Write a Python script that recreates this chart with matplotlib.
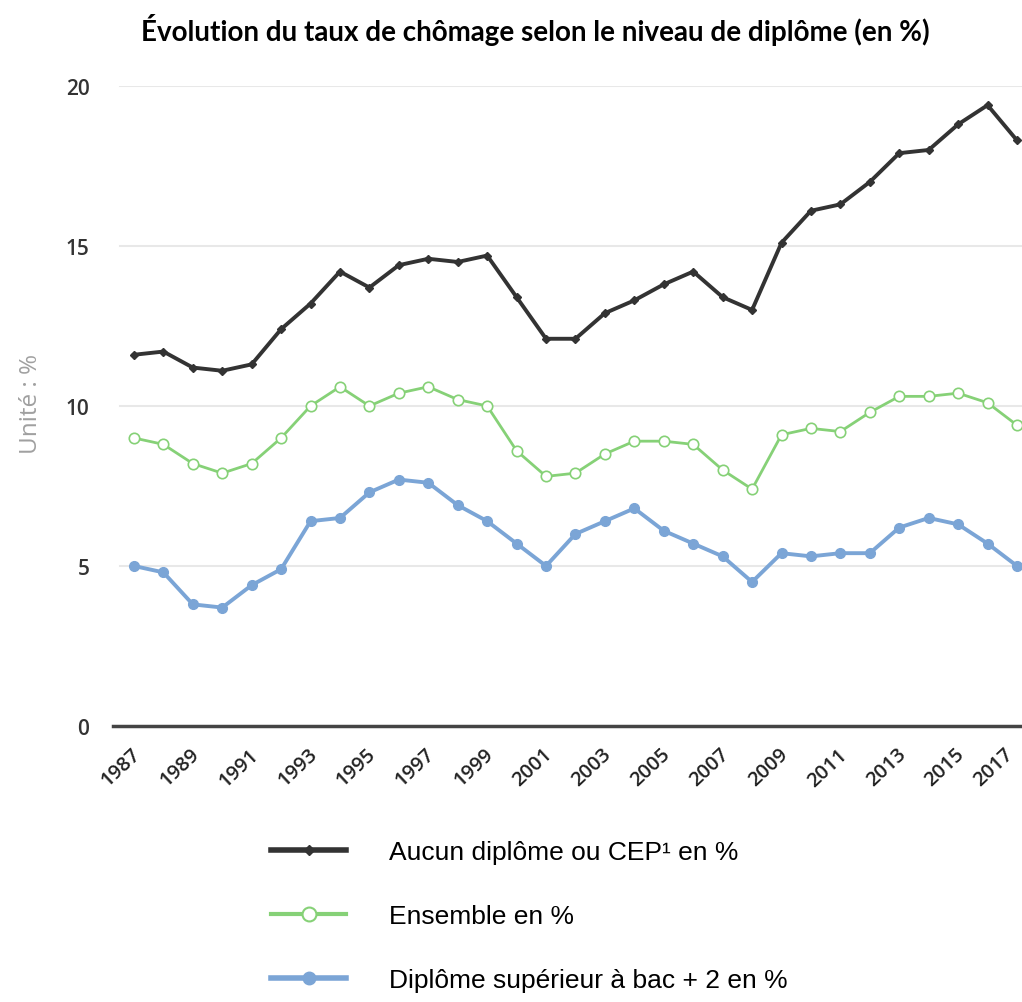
import numpy as np
import matplotlib.pyplot as plt
import matplotlib.transforms as mtransforms
from matplotlib.lines import Line2D

# Données
years = list(range(1987, 2018))
aucun = [11.6, 11.7, 11.2, 11.1, 11.3, 12.4, 13.2, 14.2, 13.7, 14.4, 14.6, 14.5, 14.7, 13.4, 12.1, 12.1,
         12.9, 13.3, 13.8, 14.2, 13.4, 13.0, 15.1, 16.1, 16.3, 17.0, 17.9, 18.0, 18.8, 19.4, 18.3]
ensemble = [9.0, 8.8, 8.2, 7.9, 8.2, 9.0, 10.0, 10.6, 10.0, 10.4, 10.6, 10.2, 10.0, 8.6, 7.8, 7.9,
            8.5, 8.9, 8.9, 8.8, 8.0, 7.4, 9.1, 9.3, 9.2, 9.8, 10.3, 10.3, 10.4, 10.1, 9.4]
superieur = [5.0, 4.8, 3.8, 3.7, 4.4, 4.9, 6.4, 6.5, 7.3, 7.7, 7.6, 6.9, 6.4, 5.7, 5.0, 6.0,
             6.4, 6.8, 6.1, 5.7, 5.3, 4.5, 5.4, 5.3, 5.4, 5.4, 6.2, 6.5, 6.3, 5.7, 5.0]
labels = ['Aucun diplôme ou CEP¹ en %', 'Ensemble en %', 'Diplôme supérieur à bac + 2 en %']
yticks = [0, 5, 10, 15, 20]
xticks = list(range(1987, 2018, 2))

c_black = '#333333'
c_green = '#86d177'
c_blue = '#7ba5d6'

fig = plt.figure(figsize=(10.22, 10.03), dpi=100)
ax = fig.add_axes([0.1106, 0.2752, 0.8894, 0.6381])

ax.plot(years, aucun, color=c_black, lw=2.8, marker='D', ms=4, mfc=c_black, mec=c_black,
        clip_on=False, zorder=5)
ax.plot(years, ensemble, color=c_green, lw=2.0, marker='o', ms=7.5, mfc='white', mec=c_green,
        mew=1.2, clip_on=False, zorder=4)
ax.plot(years, superieur, color=c_blue, lw=2.8, marker='o', ms=7, mfc=c_blue, mec=c_blue,
        clip_on=False, zorder=4)

ax.set_xlim(1986.29, 2017.17)
ax.set_ylim(0, 20)

ax.set_yticks(yticks)
ax.set_yticklabels([str(v) for v in yticks], fontsize=15, fontweight='semibold',
                   color='#333333', family='Open Sans')
ax.set_xticks(xticks)
ax.set_xticklabels([str(v) for v in xticks], rotation=43, ha='right', rotation_mode='anchor',
                   fontsize=14.5, fontweight='semibold', color='#222222', family='Open Sans')
ax.tick_params(axis='both', length=0)
ax.tick_params(axis='y', pad=17)
ax.tick_params(axis='x', pad=13)

# décalage à gauche pour que 2017 reste dans l'image
xlabs = ax.get_xticklabels()
for lab in xlabs:
    lab.set_transform(lab.get_transform() + mtransforms.ScaledTranslation(-3 / 100, 0, fig.dpi_scale_trans))
xlabs[-1].set_transform(xlabs[-1].get_transform() + mtransforms.ScaledTranslation(-10 / 100, 0, fig.dpi_scale_trans))

for y in yticks[1:]:
    ax.axhline(y, xmin=0.0075, color='#e8e8e8', lw=1.5, zorder=1)

for s in ['top', 'right', 'left']:
    ax.spines[s].set_visible(False)
ax.spines['bottom'].set_color('#444444')
ax.spines['bottom'].set_linewidth(2.5)

fig.text(0.030, 0.597, 'Unité : %', rotation=90, ha='center', va='center',
         fontsize=17.5, color='#a0a0a0', family='Open Sans')

fig.text(0.524, 0.970, 'Évolution du taux de chômage selon le niveau de diplôme (en %)',
         ha='center', va='center', fontsize=20, fontweight='bold', family='Lato')

handles = [
    Line2D([], [], color=c_black, lw=4, marker='D', ms=5, mfc=c_black, mec=c_black),
    Line2D([], [], color=c_green, lw=3, marker='o', ms=10, mfc='white', mec=c_green, mew=1.5),
    Line2D([], [], color=c_blue, lw=4, marker='o', ms=9, mfc=c_blue, mec=c_blue),
]
leg = fig.legend(handles, labels, loc='upper left', bbox_to_anchor=(0.242, 0.185),
                 frameon=False, prop={'family': 'Liberation Sans', 'size': 19},
                 handlelength=2.85, handletextpad=1.6, labelspacing=1.52)

plt.savefig('out.png', dpi=100)
